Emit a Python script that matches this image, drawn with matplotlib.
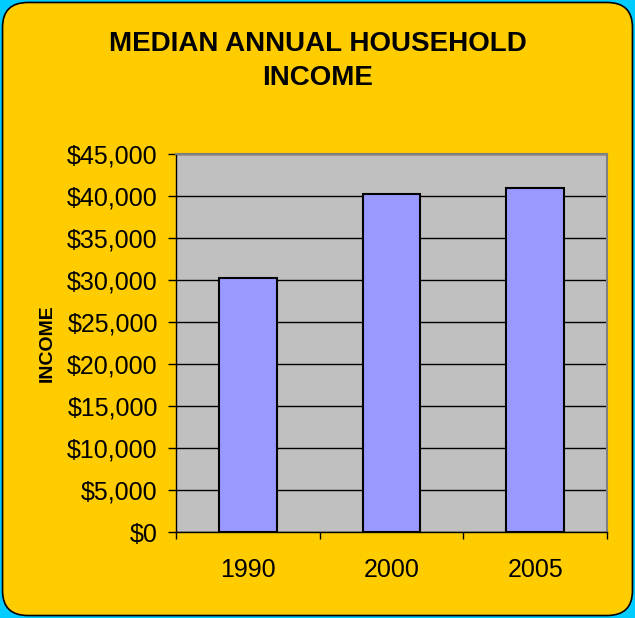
import matplotlib.pyplot as plt
from matplotlib.patches import FancyBboxPatch
from matplotlib.ticker import FuncFormatter

years = ['1990', '2000', '2005']
income = [30200, 40200, 41000]
y_ticks = list(range(0, 45001, 5000))

plt.rcParams['font.family'] = ['Liberation Sans', 'DejaVu Sans']

fig = plt.figure(figsize=(6.35, 6.18), dpi=100)
fig.patch.set_facecolor('#00CCFF')

# rounded yellow chart area
frame = FancyBboxPatch((0.004, 0.004), 0.992, 0.992,
                       boxstyle='round,pad=0,rounding_size=0.04',
                       transform=fig.transFigure, facecolor='#FFCC00',
                       edgecolor='black', linewidth=1.2, zorder=-5)
fig.patches.append(frame)

ax = fig.add_axes([0.277, 0.139, 0.679, 0.612])
ax.set_facecolor('#C0C0C0')

x = range(len(years))
ax.bar(x, income, width=0.4, color='#9999FF', edgecolor='black',
       linewidth=1.5, zorder=3)

ax.set_xlim(-0.5, 2.5)
ax.set_ylim(0, 45000)
ax.set_yticks(y_ticks)
ax.yaxis.set_major_formatter(FuncFormatter(lambda v, p: f'${v:,.0f}'))
ax.yaxis.grid(True, color='black', linewidth=1.0, zorder=1)
ax.set_axisbelow(True)

ax.set_xticks(list(x))
ax.set_xticklabels(years)
ax.tick_params(axis='x', which='major', length=0, labelsize=18, pad=19)
ax.set_xticks([-0.5, 0.5, 1.5, 2.5], minor=True)
ax.tick_params(axis='x', which='minor', length=5, width=1, color='black')
ax.tick_params(axis='y', labelsize=18, length=6, width=1, pad=7)

for side in ['top', 'right']:
    ax.spines[side].set_color('#808080')
    ax.spines[side].set_linewidth(1.5)
for side in ['left', 'bottom']:
    ax.spines[side].set_color('black')
    ax.spines[side].set_linewidth(1.0)

ax.set_ylabel('INCOME', fontsize=14, fontweight='bold', labelpad=8)

fig.text(0.5, 0.902, 'MEDIAN ANNUAL HOUSEHOLD\nINCOME', ha='center',
         va='center', fontsize=20, fontweight='bold', linespacing=1.4)

fig.savefig('out.png', dpi=100, facecolor=fig.get_facecolor())
